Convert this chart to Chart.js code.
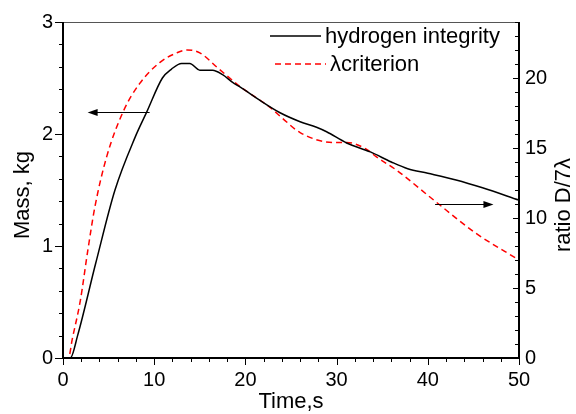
<!DOCTYPE html>
<html>
<head>
<meta charset="utf-8">
<script src="https://cdn.jsdelivr.net/npm/chart.js@4/dist/chart.umd.min.js"></script>
<style>
  html, body { margin: 0; padding: 0; background: #fff; }
  #wrap { width: 576px; height: 414px; }
</style>
</head>
<body>
<div id="wrap"><canvas id="massChart"></canvas></div>
<script>
// time (s) and mass (kg) for the hydrogen integrity curve
const massTime = [0, 0.8, 1.6, 3.6, 5.7, 7.9, 9.2, 10.9, 11.9, 13.0, 13.9, 15, 16.4, 17.5, 18.6, 19.4, 21.6, 23.8, 26, 27.8, 28.9, 31.1, 33.7, 36, 37.8, 40, 43.1, 46, 50];
const massValues = [0, 0, 0.2, 0.85, 1.5, 1.97, 2.2, 2.5, 2.58, 2.63, 2.63, 2.57, 2.57, 2.53, 2.46, 2.42, 2.30, 2.19, 2.11, 2.06, 2.02, 1.92, 1.84, 1.75, 1.69, 1.65, 1.59, 1.52, 1.41];

// time (s) and ratio D/7λ for the λ criterion curve
const ratioTime = [0, 0.6, 1.0, 1.9, 2.7, 3.5, 4.8, 6.6, 8.4, 10.6, 12.5, 13.6, 15, 17, 19.4, 22.7, 24.1, 26, 29.6, 31.1, 33.3, 34.3, 36.6, 40.8, 45.3, 50];
const ratioValues = [0, 0, 1.3, 4.1, 7.6, 10.8, 14.4, 17.6, 19.6, 21.1, 21.8, 22.0, 21.8, 20.7, 19.4, 17.9, 17.1, 16.1, 15.4, 15.4, 14.9, 14.4, 13.4, 11.2, 8.9, 7.0];

const timeTicks = [0, 10, 20, 30, 40, 50];
const massTicks = [0, 1, 2, 3];
const ratioTicks = [0, 5, 10, 15, 20];

const seriesLabels = ['hydrogen integrity', '\u03bbcriterion'];

// arrows: [x, mass] start -> end (head at end)
const arrows = [
  { from: [9.5, 2.2], to: [2.7, 2.2] },
  { from: [40.8, 1.375], to: [47.2, 1.375] }
];

const FONT = "'Liberation Sans', Arial, sans-serif";

const toPoints = (xs, ys) => xs.map((x, i) => ({ x: x, y: ys[i] }));

// ticks, axis lines, titles, legend and arrows
const decorPlugin = {
  id: 'decor',
  afterDraw(chart) {
    const ctx = chart.ctx;
    const a = chart.chartArea;
    const sx = chart.scales.x, sy = chart.scales.y, sr = chart.scales.y2;
    ctx.save();

    // top frame line
    ctx.strokeStyle = '#555';
    ctx.lineWidth = 1;
    ctx.beginPath();
    ctx.moveTo(a.left, a.top + 0.5);
    ctx.lineTo(a.right, a.top + 0.5);
    ctx.stroke();

    // axis lines
    ctx.strokeStyle = '#000';
    ctx.lineWidth = 2;
    ctx.beginPath();
    ctx.moveTo(a.left, a.top);
    ctx.lineTo(a.left, a.bottom);
    ctx.lineTo(a.right, a.bottom);
    ctx.moveTo(a.right, a.top);
    ctx.lineTo(a.right, a.bottom);
    ctx.stroke();

    // tick marks
    ctx.lineWidth = 1;
    ctx.beginPath();
    for (let v = 0; v <= 50; v += 2) {
      const px = Math.round(sx.getPixelForValue(v)) + 0.5;
      const len = v % 10 === 0 ? 7 : 4;
      ctx.moveTo(px, a.bottom);
      ctx.lineTo(px, a.bottom + len);
    }
    for (let i = 0; i <= 15; i++) {
      const v = i * 0.2;
      const py = Math.round(sy.getPixelForValue(v)) + 0.5;
      const len = i % 5 === 0 ? 8 : 4;
      ctx.moveTo(a.left, py);
      ctx.lineTo(a.left - len, py);
    }
    for (let v = 0; v <= 24; v++) {
      const py = Math.round(sr.getPixelForValue(v)) + 0.5;
      const len = v % 5 === 0 ? 6 : 4;
      ctx.moveTo(a.right, py);
      ctx.lineTo(a.right - len, py);
    }
    ctx.stroke();

    // axis titles
    ctx.fillStyle = '#000';
    ctx.font = '22px ' + FONT;
    ctx.textAlign = 'center';
    ctx.textBaseline = 'middle';
    ctx.fillText('Time,s', (a.left + a.right) / 2, 402);
    ctx.save();
    ctx.translate(23, 195);
    ctx.rotate(-Math.PI / 2);
    ctx.fillText('Mass, kg', 0, 0);
    ctx.restore();
    ctx.save();
    ctx.translate(564, 205);
    ctx.rotate(-Math.PI / 2);
    ctx.fillText('ratio D/7\u03bb', 0, 0);
    ctx.restore();

    // legend
    ctx.textAlign = 'left';
    chart.data.datasets.forEach((ds, i) => {
      const y = 36 + i * 28;
      ctx.strokeStyle = ds.borderColor;
      ctx.lineWidth = 1.5;
      ctx.setLineDash(ds.borderDash || []);
      ctx.beginPath();
      ctx.moveTo(270 + i * 5, y);
      ctx.lineTo(321 + i * 5, y);
      ctx.stroke();
      ctx.setLineDash([]);
      ctx.fillStyle = '#000';
      ctx.fillText(ds.label, 325 + i * 5, y + 1);
    });

    // arrows
    ctx.strokeStyle = '#000';
    ctx.fillStyle = '#000';
    ctx.lineWidth = 1;
    arrows.forEach(ar => {
      const x1 = sx.getPixelForValue(ar.from[0]);
      const y1 = Math.round(sy.getPixelForValue(ar.from[1])) + 0.5;
      const x2 = sx.getPixelForValue(ar.to[0]);
      const dir = Math.sign(x2 - x1);
      ctx.beginPath();
      ctx.moveTo(x1, y1);
      ctx.lineTo(x2 - dir * 6, y1);
      ctx.stroke();
      ctx.beginPath();
      ctx.moveTo(x2, y1);
      ctx.lineTo(x2 - dir * 10, y1 - 3.5);
      ctx.lineTo(x2 - dir * 10, y1 + 3.5);
      ctx.closePath();
      ctx.fill();
    });

    ctx.restore();
  }
};

const chart = new Chart(document.getElementById('massChart'), {
  type: 'line',
  data: {
    datasets: [{
      label: seriesLabels[0],
      data: toPoints(massTime, massValues),
      yAxisID: 'y',
      borderColor: '#000',
      borderWidth: 1.5,
      pointRadius: 0,
      cubicInterpolationMode: 'monotone'
    }, {
      label: seriesLabels[1],
      data: toPoints(ratioTime, ratioValues),
      yAxisID: 'y2',
      borderColor: '#ff0000',
      borderWidth: 1.5,
      borderDash: [6, 4],
      pointRadius: 0,
      cubicInterpolationMode: 'monotone'
    }]
  },
  options: {
    responsive: true,
    maintainAspectRatio: false,
    animation: false,
    layout: { padding: { top: 22, left: 0, right: 0, bottom: 0 } },
    plugins: {
      legend: { display: false },
      tooltip: { enabled: false }
    },
    scales: {
      x: {
        type: 'linear',
        min: 0,
        max: 50,
        afterBuildTicks: axis => { axis.ticks = timeTicks.map(v => ({ value: v })); },
        afterFit: axis => { axis.height = 56; },
        grid: { display: false, drawTicks: false },
        border: { display: false },
        ticks: { color: '#000', padding: 10, maxRotation: 0, font: { family: FONT, size: 20 } }
      },
      y: {
        position: 'left',
        min: 0,
        max: 3,
        afterBuildTicks: axis => { axis.ticks = massTicks.map(v => ({ value: v })); },
        afterFit: axis => { axis.width = 63; },
        grid: { display: false, drawTicks: false },
        border: { display: false },
        ticks: { color: '#000', padding: 10, font: { family: FONT, size: 20 } }
      },
      y2: {
        position: 'right',
        min: 0,
        max: 24,
        afterBuildTicks: axis => { axis.ticks = ratioTicks.map(v => ({ value: v })); },
        afterFit: axis => { axis.width = 57; },
        grid: { display: false, drawTicks: false },
        border: { display: false },
        ticks: { color: '#000', padding: 6, font: { family: FONT, size: 20 } }
      }
    }
  },
  plugins: [decorPlugin]
});
</script>
</body>
</html>
